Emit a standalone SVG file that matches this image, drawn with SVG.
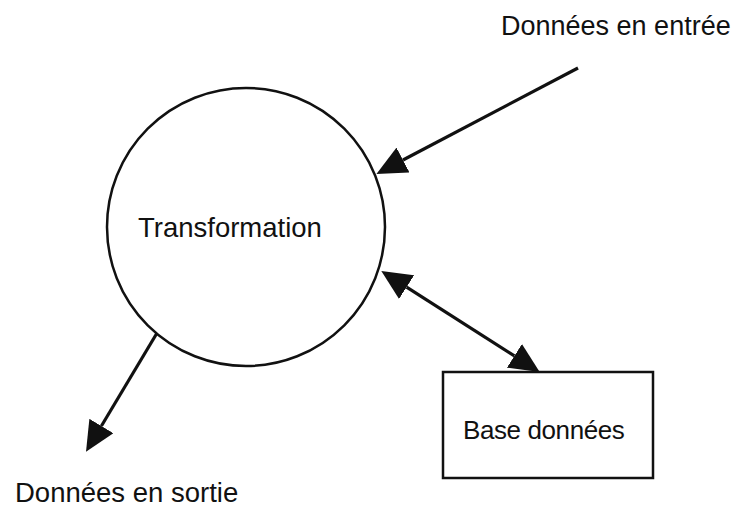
<svg xmlns="http://www.w3.org/2000/svg" width="737" height="508" viewBox="0 0 737 508">
  <style>
    .shape { fill: #ffffff; stroke: #111111; stroke-width: 2.5; }
    .flow { fill: none; stroke: #111111; stroke-width: 3.2; }
    .label { font-family: "Liberation Sans", Arial, sans-serif; fill: #111111; }
  </style>
  <defs>
    <marker id="head" viewBox="0 0 30 28" refX="0" refY="14" markerWidth="30" markerHeight="28" markerUnits="userSpaceOnUse" orient="auto-start-reverse">
      <path d="M0,0 L30,14 L0,28 z" fill="#111111"/>
    </marker>
  </defs>
  <rect width="737" height="508" fill="#ffffff"/>

  <g id="connectors">
    <line class="flow" x1="578" y1="68" x2="403" y2="160" marker-end="url(#head)"/>
    <line class="flow" x1="406.6" y1="287.1" x2="514.4" y2="355.9" marker-start="url(#head)" marker-end="url(#head)"/>
    <line class="flow" x1="157" y1="333" x2="101.4" y2="426" marker-end="url(#head)"/>
  </g>

  <g id="transformation">
    <circle class="shape" cx="246" cy="227" r="139"/>
    <text class="label" x="138" y="237" font-size="27.5">Transformation</text>
  </g>

  <g id="base-donnees">
    <rect class="shape" x="443" y="372" width="210" height="106"/>
    <text class="label" x="463" y="439" font-size="26" letter-spacing="-0.4">Base données</text>
  </g>

  <g id="donnees-entree">
    <text class="label" x="501" y="35" font-size="27">Données en entrée</text>
  </g>

  <g id="donnees-sortie">
    <text class="label" x="15" y="502" font-size="27.5">Données en sortie</text>
  </g>
</svg>
